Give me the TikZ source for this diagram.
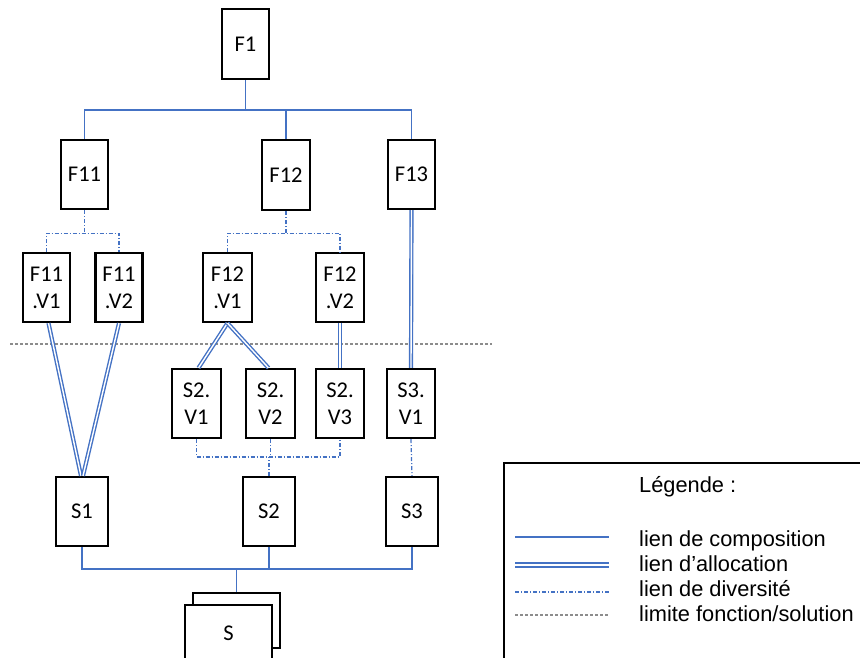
\documentclass[tikz,border=0pt]{standalone}
\usepackage{fontspec}
\setmainfont{Carlito}
\newfontfamily\legfont{Liberation Sans}
\definecolor{lblue}{RGB}{68,114,196}
\definecolor{limgray}{RGB}{140,140,140}
\tikzset{
  box/.style={draw=black, line width=2.2pt, minimum width=47pt, minimum height=69pt,
    inner sep=0pt, fill=white, align=center, font=\fontsize{22.5}{27}\selectfont},
  comp/.style={draw=lblue, line width=1.7pt},
  alloc/.style={draw=lblue, line width=1.4pt, double=white, double distance=1.4pt},
  divl/.style={draw=lblue, line width=1.2pt, dash pattern=on 4pt off 2pt on 1pt off 2pt},
  lim/.style={draw=limgray, line width=1.7pt, dash pattern=on 3pt off 2pt},
  legtext/.style={anchor=base west, inner sep=0pt, font=\legfont\fontsize{21.8}{26}\selectfont},
}
\begin{document}
\begin{tikzpicture}[x=1pt,y=-1pt]
\useasboundingbox (0,0) rectangle (860,657);
\clip (0,0) rectangle (860,657);
% nodes
\node[box, minimum height=70pt] (F1) at (245.5,44) {F1};
\node[box] (F11) at (84.5,174.5) {F11};
\node[box, minimum width=48pt, minimum height=70pt] (F12) at (286,175) {F12};
\node[box] (F13) at (411.5,174.5) {F13};
\node[box] (F11V1) at (46.5,287.5) {F11\\.V1};
\node[box] (F11V2) at (119,287.5) {F11\\.V2};
\node[box, minimum width=49pt] (F12V1) at (227.5,287.5) {F12\\.V1};
\node[box, minimum width=48pt] (F12V2) at (340,287.5) {F12\\.V2};
\node[box, minimum width=49pt] (S2V1) at (196.5,403.5) {S2.\\V1};
\node[box, minimum width=49pt] (S2V2) at (270.5,403.5) {S2.\\V2};
\node[box, minimum width=48pt] (S2V3) at (340,403.5) {S2.\\V3};
\node[box, minimum width=48pt] (S3V1) at (411,403.5) {S3.\\V1};
\node[box, minimum width=52pt] (S1) at (82,511.5) {S1};
\node[box, minimum width=52pt] (S2) at (269,511.5) {S2};
\node[box, minimum width=52pt] (S3) at (412,511.5) {S3};
\node[box, minimum width=87pt, minimum height=55pt] (Sback) at (236.5,620.5) {};
\node[box, minimum width=87pt, minimum height=56pt] (S) at (228.5,633) {S};
% composition links
\draw[comp] (F1.south) -- ++(0,30) coordinate (cb1);
\draw[comp] (F11.north) -- (F11.north |- cb1) -- (F13.north |- cb1) -- (F13.north);
\draw[comp] (F12.north) -- (F12.north |- cb1);
\draw[comp] (Sback.north) -- ++(0,-23) coordinate (cb2);
\draw[comp] (S1.south) -- (S1.south |- cb2) -- (S3.south |- cb2) -- (S3.south);
\draw[comp] (S2.south) -- (S2.south |- cb2);
% diversity links
\draw[divl] (F11.south) -- ++(0,23) coordinate (d11);
\draw[divl] (F11V1.north) -- (F11V1.north |- d11) -- (F11V2.north |- d11) -- (F11V2.north);
\draw[divl] (F12.south) -- ++(0,22) coordinate (d12);
\draw[divl] (F12V1.north) -- (F12V1.north |- d12) -- (F12V2.north |- d12) -- (F12V2.north);
\draw[divl] (S2.north) -- ++(0,-19) coordinate (d2);
\draw[divl] (S2V1.south) -- (S2V1.south |- d2) -- (S2V3.south |- d2) -- (S2V3.south);
\draw[divl] (S2V2.south) -- (S2V2.south |- d2);
\draw[divl] (S3V1.south) -- (S3.north);
% limit line
\coordinate (limA) at (10,344);
\coordinate (limB) at (492,344);
\draw[lim] (limA) -- (limB);
% allocation links
\draw[alloc] ([xshift=2pt]F11V1.south) -- ([xshift=-1pt]S1.north);
\draw[alloc] (F11V2.south) -- ([xshift=1pt]S1.north);
\draw[alloc] (F12V1.south) -- ([xshift=2pt]S2V1.north);
\draw[alloc] (F12V1.south) -- ([xshift=-2pt]S2V2.north);
\draw[alloc] (F12V2.south) -- (S2V3.north);
\draw[alloc] (F13.south) -- (S3V1.north);
% legend
\node[draw=black, line width=2.2pt, minimum width=380pt, minimum height=220pt, anchor=north west, inner sep=0pt] (legbox) at (503,462) {};
\node[legtext] (legT) at (639,492) {Légende :};
\node[legtext] (lg1) at (639,546) {lien de composition};
\node[legtext] (lg2) at (639,571) {lien d’allocation};
\node[legtext] (lg3) at (639,596) {lien de diversité};
\node[legtext] (lg4) at (639,621) {limite fonction/solution};
\coordinate (c1a) at (515,537); \coordinate (c1b) at (609,537);
\coordinate (c2a) at (515,565); \coordinate (c2b) at (609,565);
\coordinate (c3a) at (515,592); \coordinate (c3b) at (609,592);
\coordinate (c4a) at (515,615); \coordinate (c4b) at (609,615);
\draw[comp, line width=1.4pt] (c1a) -- (c1b);
\draw[draw=lblue, line width=2pt, double=white, double distance=1.2pt] (c2a) -- (c2b);
\draw[divl] (c3a) -- (c3b);
\draw[lim, line width=1.2pt] (c4a) -- (c4b);
\end{tikzpicture}
\end{document}
